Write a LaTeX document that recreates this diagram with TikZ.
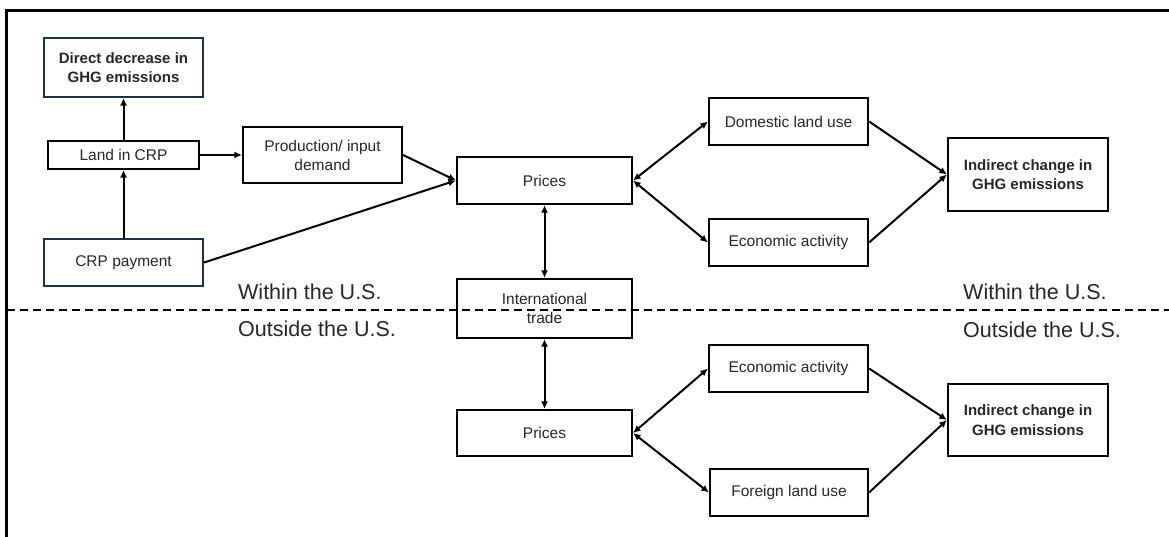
\documentclass[tikz,border=0pt]{standalone}
\usepackage{fontspec}
\setmainfont{Liberation Sans}
\usetikzlibrary{arrows.meta, positioning}
\definecolor{navy}{HTML}{1B3346}
\definecolor{ink}{HTML}{262626}

\begin{document}
\begin{tikzpicture}[
    x=1pt, y=-1pt,
    font=\fontsize{15.5pt}{19pt}\selectfont,
    box/.style={
        draw, line width=2.2pt, text=ink,
        align=center, inner sep=2pt
    },
    navybox/.style={
        box, draw=navy
    },
    result/.style={
        box, font=\fontsize{15pt}{19.5pt}\selectfont\bfseries
    },
    region/.style={
        anchor=west, inner sep=0pt, text=ink,
        font=\fontsize{21.5pt}{24pt}\selectfont
    },
    arrow/.style={
        -{Latex[length=7.5pt, width=7pt]}, line width=2pt
    },
    twoway/.style={
        {Latex[length=7.5pt, width=7pt]}-{Latex[length=7.5pt, width=7pt]}, line width=2pt
    }
]
\useasboundingbox (0,0) rectangle (1169,537);

% --- frame and border line ---
\coordinate (framebl) at (6.5,537);
\coordinate (frametl) at (6.5,10.5);
\coordinate (frametr) at (1169,10.5);
\draw[line width=2.4pt] (framebl) -- (frametl) -- (frametr);
\coordinate (borderl) at (6.5,310);
\coordinate (borderr) at (1169,310);

% --- CRP side ---
\node[navybox, result, draw=navy, minimum width=159pt, minimum height=59pt] (direct) at (123.5,67.5) {Direct decrease in\\GHG emissions};
\node[box, minimum width=151pt, minimum height=28pt] (land) at (123.5,155) {Land in CRP};
\node[navybox, minimum width=159pt, minimum height=47pt] (payment) at (123.5,262.5) {CRP payment};
\node[box, minimum width=159pt, minimum height=56pt] (prod) at (322.5,155) {Production/ input\\demand};

% --- within the U.S. ---
\node[box, minimum width=175pt, minimum height=47pt] (prices) at (544.5,180.5) {Prices};
\node[box, minimum width=159pt, minimum height=47pt] (domland) at (788.5,121.5) {Domestic land use};
\node[box, minimum width=159pt, minimum height=47pt] (econ) at (788.5,242.5) {Economic activity};
\node[result, minimum width=160pt, minimum height=73pt] (indirect) at (1028,174.5) {Indirect change in\\GHG emissions};

% --- trade across the border ---
\node[box, minimum width=175pt, minimum height=59pt] (trade) at (544.5,308.5) {International\\trade};

% --- outside the U.S. ---
\node[box, minimum width=175pt, minimum height=46pt] (fprices) at (544.5,433) {Prices};
\node[box, minimum width=159pt, minimum height=47pt] (fecon) at (788.5,368.5) {Economic activity};
\node[box, minimum width=158pt, minimum height=47pt] (fland) at (789,492.5) {Foreign land use};
\node[result, minimum width=160pt, minimum height=72pt] (findirect) at (1028,420) {Indirect change in\\GHG emissions};

% --- region labels ---
\node[region] (withinl) at (238,292) {Within the U.S.};
\node[region] (outsidel) at (238,329) {Outside the U.S.};
\node[region] (withinr) at (963,292) {Within the U.S.};
\node[region] (outsider) at (963,330) {Outside the U.S.};

\draw[line width=1.8pt, dash pattern=on 8pt off 5pt] (borderl) -- (borderr);

% --- arrows ---
\draw[arrow] (land) -- (direct);
\draw[arrow] (payment) -- (land);
\draw[arrow] (land) -- (prod);
\draw[arrow] (prod.east) -- (prices.west);
\draw[arrow] (payment.east) -- (prices.west);
\draw[twoway] (prices.east) -- (domland.west);
\draw[twoway] (prices.east) -- (econ.west);
\draw[arrow] (domland.east) -- (indirect.west);
\draw[arrow] (econ.east) -- (indirect.west);
\draw[twoway] (prices) -- (trade);
\draw[twoway] (trade) -- (fprices);
\draw[twoway] (fprices.east) -- (fecon.west);
\draw[twoway] (fprices.east) -- (fland.west);
\draw[arrow] (fecon.east) -- (findirect.west);
\draw[arrow] (fland.east) -- (findirect.west);

\end{tikzpicture}
\end{document}
